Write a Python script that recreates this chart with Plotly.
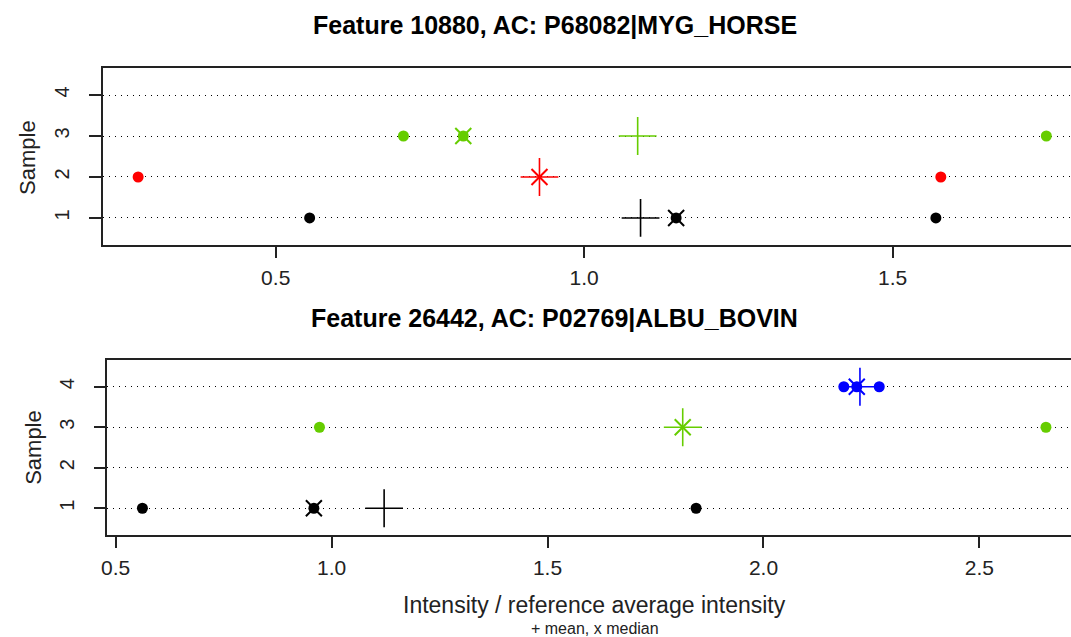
import numpy as np
import plotly.graph_objects as go

W, H = 1071, 637

# ---- data ----
top_title = "Feature 10880, AC: P68082|MYG_HORSE"
bot_title = "Feature 26442, AC: P02769|ALBU_BOVIN"

top_samples = [1, 2, 3]
top_values = {
    1: [0.555, 1.149, 1.570],
    2: [0.277, 1.578],
    3: [0.707, 0.804, 1.749],
}
bot_samples = [1, 3, 4]
bot_values = {
    1: [0.562, 0.959, 1.844],
    3: [0.972, 2.654],
    4: [2.186, 2.216, 2.268],
}
sample_colors = {1: "#000000", 2: "#FF0000", 3: "#66CD00", 4: "#0000FF"}
y_ticks = [1, 2, 3, 4]
top_xticks = [0.5, 1.0, 1.5]
bot_xticks = [0.5, 1.0, 1.5, 2.0, 2.5]

FONT = "Liberation Sans, Arial, Helvetica, sans-serif"

fig = go.Figure()


def add_panel(samples, values, xa, ya):
    for s in samples:
        v = values[s]
        c = sample_colors[s]
        fig.add_trace(go.Scatter(
            x=v, y=[s] * len(v), mode="markers", xaxis=xa, yaxis=ya,
            marker=dict(symbol="circle", size=11, color=c, line=dict(width=0)),
            showlegend=False, hoverinfo="x+y"))
        fig.add_trace(go.Scatter(
            x=[float(np.median(v))], y=[s], mode="markers", xaxis=xa, yaxis=ya,
            marker=dict(symbol="x-thin", size=16, color=c, line=dict(width=2, color=c)),
            showlegend=False, hoverinfo="x+y"))
        fig.add_trace(go.Scatter(
            x=[float(np.mean(v))], y=[s], mode="markers", xaxis=xa, yaxis=ya,
            marker=dict(symbol="cross-thin", size=27, color=c, line=dict(width=1.6, color=c)),
            showlegend=False, hoverinfo="x+y"))


add_panel(top_samples, top_values, "x", "y")
add_panel(bot_samples, bot_values, "x2", "y2")

line_col = "#222222"
common_x = dict(showline=True, mirror=True, linecolor=line_col, linewidth=1.5,
                ticks="outside", ticklen=11, tickwidth=1.5, tickcolor=line_col,
                showgrid=False, zeroline=False, ticklabelstandoff=2,
                tickfont=dict(family=FONT, size=21, color="#222222"))
common_y = dict(showline=True, mirror=False, linecolor=line_col, linewidth=1.5,
                ticks="outside", ticklen=12, tickwidth=1.5, tickcolor=line_col,
                showgrid=True, gridcolor="#000000", gridwidth=1.2, griddash="1px,5px",
                zeroline=False, tickvals=y_ticks, ticktext=[str(t) for t in y_ticks],
                tickangle=-90, range=[0.34, 4.66], ticklabelstandoff=12,
                tickfont=dict(family=FONT, size=20, color="#222222"))

fig.update_layout(
    width=W, height=H,
    margin=dict(l=0, r=0, t=0, b=0),
    paper_bgcolor="white", plot_bgcolor="white",
    xaxis=dict(domain=[97.5 / W, 1], range=[0.220, 1.789], anchor="y",
               tickvals=top_xticks, ticktext=["0.5", "1.0", "1.5"], **common_x),
    yaxis=dict(domain=[1 - 245 / H, 1 - 68 / H], anchor="x", **common_y),
    xaxis2=dict(domain=[102 / W, 1], range=[0.481, 2.712], anchor="y2",
                tickvals=bot_xticks, ticktext=["0.5", "1.0", "1.5", "2.0", "2.5"], **common_x),
    yaxis2=dict(domain=[1 - 535 / H, 1 - 360 / H], anchor="x2", **common_y),
    showlegend=False,
)

ann = []
ann.append(dict(text=f"<b>{top_title}</b>", x=552 / W, y=1 - 25 / H, xref="paper", yref="paper",
                showarrow=False, xanchor="center", yanchor="middle",
                font=dict(family=FONT, size=25, color="#000000")))
ann.append(dict(text=f"<b>{bot_title}</b>", x=552 / W, y=1 - 318 / H, xref="paper", yref="paper",
                showarrow=False, xanchor="center", yanchor="middle",
                font=dict(family=FONT, size=25, color="#000000")))
for yc, xc in [(157, 22), (447, 27)]:
    ann.append(dict(text="Sample", x=xc / W, y=1 - yc / H, xref="paper", yref="paper",
                    showarrow=False, textangle=-90, xanchor="center", yanchor="middle",
                    font=dict(family=FONT, size=22, color="#222222")))
ann.append(dict(text="Intensity / reference average intensity", x=592 / W, y=1 - 605 / H,
                xref="paper", yref="paper", showarrow=False, xanchor="center", yanchor="middle",
                font=dict(family=FONT, size=23, color="#222222")))
ann.append(dict(text="+ mean, x median", x=592 / W, y=1 - 628 / H,
                xref="paper", yref="paper", showarrow=False, xanchor="center", yanchor="middle",
                font=dict(family=FONT, size=16, color="#222222")))
fig.update_layout(annotations=ann)

fig.write_html("out.html")
